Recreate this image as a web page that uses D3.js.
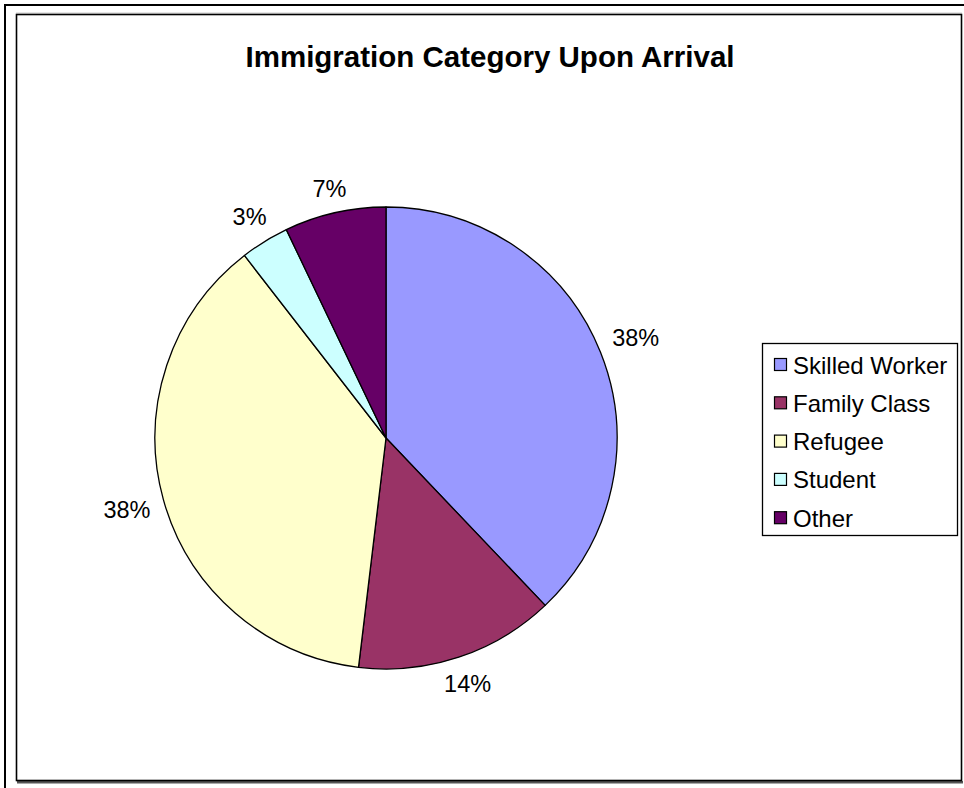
<!DOCTYPE html>
<html>
<head>
<meta charset="utf-8">
<script src="https://cdn.jsdelivr.net/npm/d3@7"></script>
<style>
  html, body { margin: 0; padding: 0; background: #fff; }
  svg { display: block; }
  text { font-family: "Liberation Sans", Arial, sans-serif; fill: #000; }
</style>
</head>
<body>
<svg id="chart" width="964" height="788"></svg>
<script>
const title = "Immigration Category Upon Arrival";
const categories = ["Skilled Worker", "Family Class", "Refugee", "Student", "Other"];
const values = [37.9, 14.0, 37.6, 3.4, 7.1];
const colors = ["#9999FF", "#993366", "#FFFFCC", "#CCFFFF", "#660066"];

const svg = d3.select("#chart");

// outer frame (partly cut off by the window)
svg.append("path")
  .attr("d", "M5,790 L5,5 L970,5")
  .attr("fill", "none").attr("stroke", "#000").attr("stroke-width", 2);

// inner chart area frame with shadow
svg.append("rect").attr("x", 16).attr("y", 12.5).attr("width", 946).attr("height", 1)
  .attr("fill", "#ccc");
svg.append("rect").attr("x", 17).attr("y", 781).attr("width", 946).attr("height", 2.5)
  .attr("fill", "#555");
svg.append("rect")
  .attr("x", 16.5).attr("y", 14.5).attr("width", 945).attr("height", 766)
  .attr("fill", "#fff").attr("stroke", "#000").attr("stroke-width", 1.6);

// title
svg.append("text")
  .attr("x", 490).attr("y", 67)
  .attr("text-anchor", "middle")
  .attr("font-weight", "bold")
  .attr("font-size", 29.5)
  .text(title);

// pie
const cx = 386, cy = 438, r = 231;
const data = categories.map((c, i) => ({ name: c, value: values[i], color: colors[i] }));
const pie = d3.pie().value(d => d.value).sort(null);
const arcs = pie(data);
const arc = d3.arc().innerRadius(0).outerRadius(r);

const g = svg.append("g").attr("transform", `translate(${cx},${cy})`);
g.selectAll("path.slice")
  .data(arcs)
  .enter().append("path")
  .attr("class", "slice")
  .attr("d", arc)
  .attr("fill", d => d.data.color)
  .attr("stroke", "#000")
  .attr("stroke-width", 1.3)
  .attr("stroke-linejoin", "round");

// data labels outside the pie
const total = d3.sum(values);
const fmt = v => Math.round(v / total * 100) + "%";
const labels = g.selectAll("text.lbl")
  .data(arcs)
  .enter().append("text")
  .attr("class", "lbl")
  .attr("font-size", 23.5)
  .attr("text-anchor", "middle")
  .attr("dominant-baseline", "central")
  .text(d => fmt(d.data.value));

labels.each(function(d) {
  const bb = this.getBBox();
  const a = (d.startAngle + d.endAngle) / 2;
  const sx = Math.sin(a), sy = -Math.cos(a);
  const hw = bb.width / 2, hh = 8;
  const dist = r + 13 + Math.abs(sx) * hw + Math.abs(sy) * hh;
  d3.select(this).attr("x", sx * dist).attr("y", sy * dist);
});

// legend
const lgX = 762, lgY = 343, lgW = 195, lgH = 192;
const rowH = 38.3;
const lg = svg.append("g");
lg.append("rect")
  .attr("x", lgX + 0.5).attr("y", lgY + 0.5).attr("width", lgW).attr("height", lgH)
  .attr("fill", "#fff").attr("stroke", "#000").attr("stroke-width", 1.3);

const rows = lg.selectAll("g.row")
  .data(data)
  .enter().append("g")
  .attr("class", "row")
  .attr("transform", (d, i) => `translate(${lgX}, ${lgY + 22 + i * rowH})`);
rows.append("rect")
  .attr("x", 12.5).attr("y", -6.5).attr("width", 12).attr("height", 12)
  .attr("fill", d => d.color).attr("stroke", "#000").attr("stroke-width", 1.2);
rows.append("text")
  .attr("x", 31).attr("y", 0)
  .attr("dominant-baseline", "central")
  .attr("font-size", 24)
  .text(d => d.name);
</script>
</body>
</html>
